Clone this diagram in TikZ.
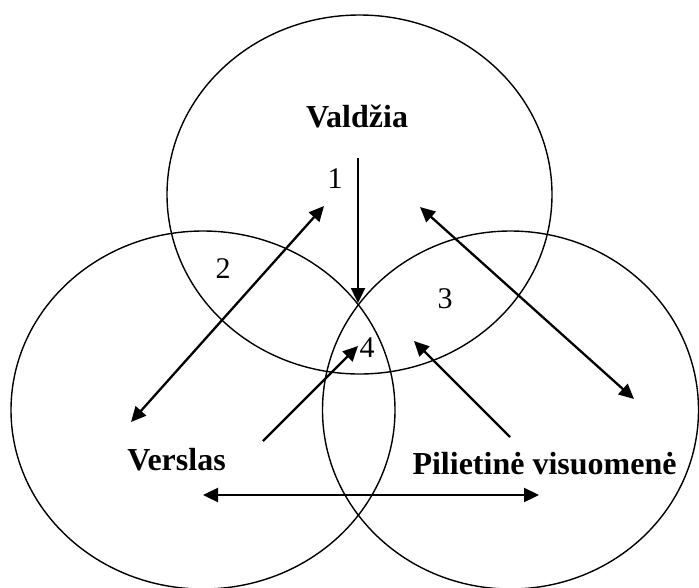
\documentclass[tikz,border=0pt]{standalone}
\usepackage{fontspec}
\setmainfont{Liberation Serif}
\usetikzlibrary{arrows.meta,shapes.geometric}
\tikzset{
  circ/.style={draw, ellipse, line width=1.4pt, inner sep=0pt},
  conn/.style={line width=2.3pt, -{Triangle[length=15pt,width=14pt]}},
  dconn/.style={line width=2.3pt, {Triangle[length=15pt,width=14pt]}-{Triangle[length=15pt,width=14pt]}},
  lbl/.style={font=\fontsize{32}{38}\selectfont\bfseries, anchor=base, inner sep=0pt},
  num/.style={font=\fontsize{30}{36}\selectfont, anchor=base, inner sep=0pt}
}
\begin{document}
\begin{tikzpicture}[x=1pt,y=-1pt]
\useasboundingbox (0,0) rectangle (699,587);
\clip (0,0) rectangle (699,587);
% circles
\node[circ, minimum width=385pt, minimum height=359pt] (top) at (359.5,194.5) {};
\node[circ, minimum width=384pt, minimum height=358pt] (left) at (203,410) {};
\node[circ, minimum width=376pt, minimum height=358pt] (right) at (510.5,410) {};
% labels
\node[lbl] (valdzia) at (357,127) {Valdžia};
\node[lbl] (verslas) at (176.5,470) {Verslas};
\node[lbl] (pv) at (544.5,474) {Pilietinė visuomenė};
\node[num] (n1) at (335,188) {1};
\node[num] (n2) at (223,278) {2};
\node[num] (n3) at (445,308) {3};
\node[num] (n4) at (367,357) {4};
% arrow ends
\coordinate (a1s) at (358,158);
\coordinate (a1e) at (358,303);
\coordinate (a2s) at (131,422);
\coordinate (a2e) at (324,206);
\coordinate (a3s) at (420,207);
\coordinate (a3e) at (634,399);
\coordinate (a4s) at (263,441);
\coordinate (a4e) at (358,346);
\coordinate (a5s) at (510,437);
\coordinate (a5e) at (414,341);
\coordinate (a6s) at (203,495);
\coordinate (a6e) at (539,495);
% connectors
\draw[conn] (a1s) -- (a1e);
\draw[dconn] (a2s) -- (a2e);
\draw[dconn] (a3s) -- (a3e);
\draw[conn] (a4s) -- (a4e);
\draw[conn] (a5s) -- (a5e);
\draw[dconn] (a6s) -- (a6e);
\end{tikzpicture}
\end{document}
